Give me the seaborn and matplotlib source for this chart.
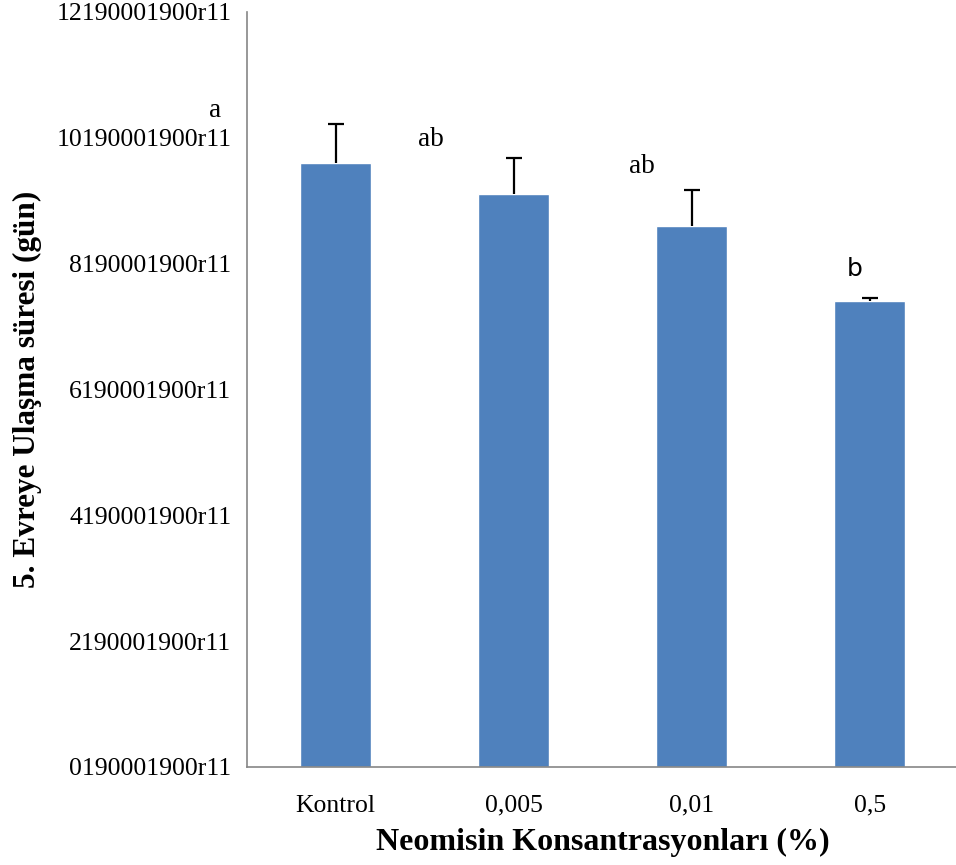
import pandas as pd
import matplotlib
matplotlib.use("Agg")
import matplotlib.pyplot as plt
import seaborn as sns

# data
groups = ['Kontrol', '0,005', '0,01', '0,5']
means = [9.60, 9.11, 8.60, 7.41]
errs = [0.61, 0.57, 0.57, 0.05]
letters = ['a', 'ab', 'ab', 'b']
letter_x = [-0.71, 0.46, 1.65, 2.87]
letter_y = [10.33, 9.87, 9.44, 7.81]
yticks = [0, 2, 4, 6, 8, 10, 12]
ytick_labels = ['%d190001900r11' % v for v in yticks]

sns.set_style('white')
plt.rcParams['font.family'] = ['Liberation Serif', 'DejaVu Serif']
plt.rcParams['text.color'] = 'black'
plt.rcParams['axes.labelcolor'] = 'black'

df = pd.DataFrame({'grup': groups, 'gun': means})

fig = plt.figure(figsize=(9.56, 8.65), dpi=100)
ax = fig.add_axes([0.258, 0.1133, 0.745, 0.873])

sns.barplot(data=df, x='grup', y='gun', color='#4f81bd', saturation=1,
            width=0.40, errorbar=None, ax=ax)

# one-sided (upper) error bars, cap only on top
tops = [m + e for m, e in zip(means, errs)]
ax.errorbar(range(len(groups)), means, yerr=[[0] * len(errs), errs],
            fmt='none', ecolor='black', elinewidth=1.6, capsize=0)
ax.scatter(range(len(groups)), tops, marker='_', s=120, color='black',
           linewidths=1.6, zorder=5)

for i, (t, lx, ly) in enumerate(zip(letters, letter_x, letter_y)):
    if i == 3:
        ax.text(lx, ly, t, fontsize=18, ha='left', va='baseline',
                family=['DejaVu Sans'], clip_on=False)
    else:
        ax.text(lx, ly, t, fontsize=19.5, ha='left', va='baseline',
                family=['Liberation Serif'], clip_on=False)

ax.set_xlim(-0.5, 3.5)
ax.set_ylim(0, 12)
ax.set_yticks(yticks)
ax.set_yticklabels(ytick_labels, fontsize=18.5)
ax.set_xticks([0, 1, 2, 3])
ax.set_xticklabels(groups, fontsize=18.5)
ax.set_xticks([-0.5, 0.5, 1.5, 2.5, 3.5], minor=True)
ax.tick_params(axis='x', which='major', length=0, pad=20, labelcolor='black')
ax.tick_params(axis='x', which='minor', length=7, color='#868686', width=1.2)
ax.tick_params(axis='y', length=7, color='#868686', width=1.2, pad=4,
               labelcolor='black')

for s in ['top', 'right']:
    ax.spines[s].set_visible(False)
for s in ['left', 'bottom']:
    ax.spines[s].set_color('#868686')
    ax.spines[s].set_linewidth(1.2)

ax.set_xlabel('Neomisin Konsantrasyonları (%)', fontsize=23, fontweight='bold', labelpad=8)
ax.set_ylabel('5. Evreye Ulaşma süresi (gün)', fontsize=22.5, fontweight='bold', labelpad=10)

fig.savefig('out.png', dpi=100)
